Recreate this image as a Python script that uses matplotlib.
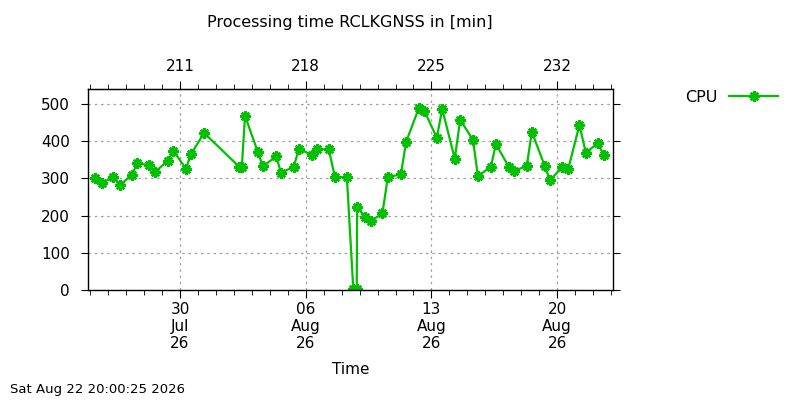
"""
plot.py

Processing time of RCLKGNSS per run, redrawn from a gnuplot chart.
"""

# python modules
import numpy as np
import pandas as pd
import matplotlib

matplotlib.use("Agg")
from matplotlib import pyplot as plt
import matplotlib.dates as mdates
from matplotlib.lines import Line2D

# run times and processing times in minutes
run_times = [
    "2026-07-25 07:00", "2026-07-25 15:10", "2026-07-26 06:45", "2026-07-26 15:50",
    "2026-07-27 07:25", "2026-07-27 14:50", "2026-07-28 07:00", "2026-07-28 14:40",
    "2026-07-29 07:25", "2026-07-29 15:05", "2026-07-30 07:55", "2026-07-30 14:40",
    "2026-07-31 08:10", "2026-08-02 07:10", "2026-08-02 10:35", "2026-08-02 14:55",
    "2026-08-03 07:55", "2026-08-03 14:40", "2026-08-04 08:25", "2026-08-04 15:05",
    "2026-08-05 07:55", "2026-08-05 15:05", "2026-08-06 08:10", "2026-08-06 15:35",
    "2026-08-07 06:45", "2026-08-07 15:05", "2026-08-08 07:00", "2026-08-08 15:35",
    "2026-08-08 20:10", "2026-08-08 20:40", "2026-08-09 07:25", "2026-08-09 14:55",
    "2026-08-10 06:30", "2026-08-10 13:40", "2026-08-11 07:10", "2026-08-11 14:10",
    "2026-08-12 07:25", "2026-08-12 14:40", "2026-08-13 07:10", "2026-08-13 14:25",
    "2026-08-14 07:10", "2026-08-14 14:25", "2026-08-15 07:25", "2026-08-15 14:10",
    "2026-08-16 07:25", "2026-08-16 14:10", "2026-08-17 07:25", "2026-08-17 14:10",
    "2026-08-18 07:25", "2026-08-18 14:10", "2026-08-19 07:40", "2026-08-19 14:25",
    "2026-08-20 07:10", "2026-08-20 14:55", "2026-08-21 05:45", "2026-08-21 14:25",
    "2026-08-22 06:00", "2026-08-22 14:40",
]
cpu_minutes = [
    301, 287, 303, 283, 308, 341, 335, 317, 347, 374, 326, 365,
    422, 331, 331, 468, 371, 332, 359, 315, 331, 380, 362, 378,
    378, 303, 303, 2, 2, 222, 197, 185, 206, 303, 311, 398,
    490, 481, 409, 486, 353, 457, 404, 306, 331, 392, 331, 320,
    333, 425, 332, 295, 331, 326, 443, 369, 394, 362,
]
series_label = "CPU"
title_text = "Processing time RCLKGNSS in [min]"
stamp_text = "Sat Aug 22 20:00:25 2026"

green = "#00c000"
grid_kw = dict(color="#a0a0a0", linestyle=(0, (2, 3)), linewidth=0.9)
mark_kw = dict(marker=(8, 2, 0), markersize=7.5, markeredgewidth=1.8,
               markeredgecolor=green)
plt.rcParams["font.family"] = "DejaVu Sans"
plt.rcParams["font.size"] = 11

times = pd.to_datetime(run_times)

fig = plt.figure(figsize=(8, 4), dpi=100)
ax = fig.add_axes([88 / 800, 1 - 290 / 400, (612.5 - 88) / 800, (290 - 89) / 400])

# asterisk marker like gnuplot pointtype 3
ax.plot(times, cpu_minutes, color=green, linewidth=1.6, label=series_label,
        **mark_kw)

x0 = pd.Timestamp("2026-07-24 21:00")
x1 = pd.Timestamp("2026-08-23 02:00")
ax.set_xlim(x0, x1)
ax.set_ylim(0, 540)

# bottom date axis
ax.xaxis.set_major_locator(mdates.DayLocator(bymonthday=[30, 6, 13, 20]))
ax.xaxis.set_minor_locator(mdates.DayLocator())
ax.xaxis.set_major_formatter(mdates.DateFormatter("%d\n%b\n%y"))
ax.set_yticks(np.arange(0, 501, 100))
ax.tick_params(axis="x", which="major", direction="out", length=6, pad=3)
ax.tick_params(axis="x", which="minor", direction="out", length=3.5)
ax.tick_params(axis="y", which="major", direction="out", length=5, pad=8,
               right=True)
for lab in ax.get_xticklabels():
    lab.set_linespacing(1.15)
ax.grid(True, which="major", **grid_kw)
ax.set_xlabel("Time", labelpad=8)

# top axis in day of year
jan0 = mdates.date2num(pd.Timestamp("2026-01-01")) - 1
top = ax.secondary_xaxis("top", functions=(lambda x: x - jan0, lambda d: d + jan0))
top.set_xticks([211, 218, 225, 232])
top.set_xticks(np.arange(200, 240), minor=True)
top.tick_params(which="major", direction="out", length=6, pad=4.5)
top.tick_params(which="minor", direction="out", length=3.5)

for side in ax.spines.values():
    side.set_linewidth(1.0)

fig.text(350 / 800, 1 - 23 / 400, title_text, ha="center", va="center",
         fontsize=11.5)
fig.text(10 / 800, 1 - 390 / 400, stamp_text, ha="left", va="center", fontsize=9.5)

# legend: label on the left, sample line on the right
handle = Line2D([], [], color=green, linewidth=1.6, **mark_kw)
fig.legend([handle], [series_label], loc="center left",
           bbox_to_anchor=(685 / 800, 1 - 97.5 / 400), frameon=False,
           markerfirst=False, handlelength=3.05, handletextpad=0.75,
           borderpad=0, borderaxespad=0, fontsize=11.5, numpoints=1)

fig.savefig("out.png", dpi=100)
